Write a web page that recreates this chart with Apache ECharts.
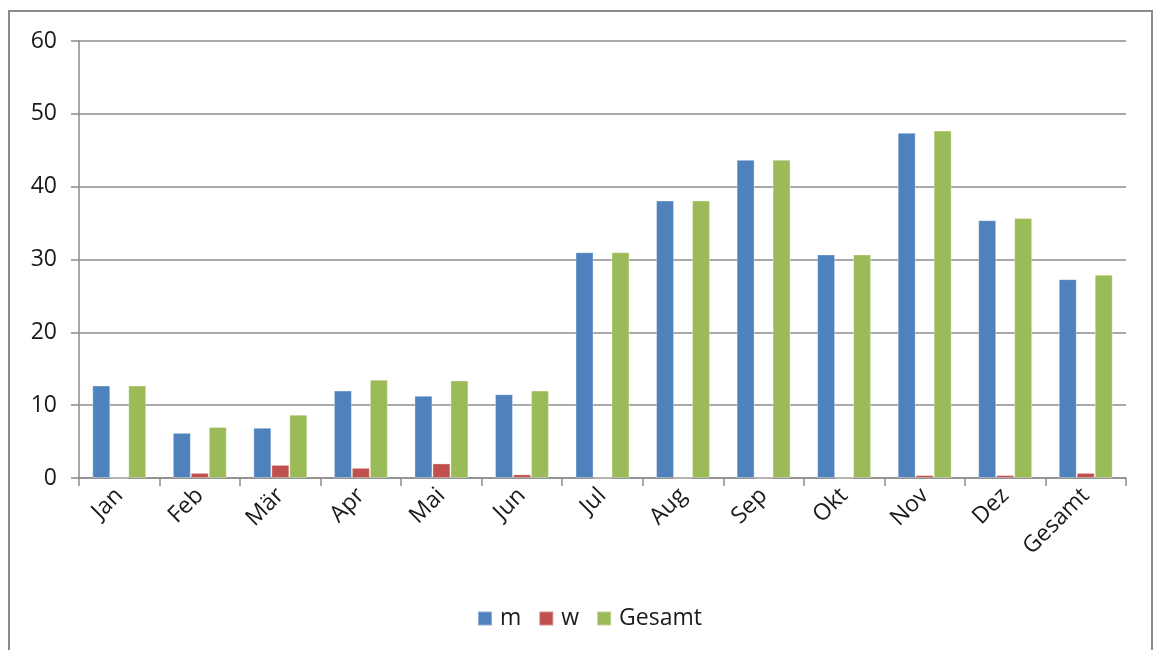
<!DOCTYPE html>
<html>
<head>
<meta charset="utf-8">
<script src="https://cdn.jsdelivr.net/npm/echarts@6/dist/echarts.min.js"></script>
<style>
  html, body { margin: 0; padding: 0; background: #fff; }
  #chart { width: 1154px; height: 650px; }
</style>
</head>
<body>
<div id="chart"></div>
<script>
// Monatliche Werte nach Geschlecht
const categories = ['Jan', 'Feb', 'Mär', 'Apr', 'Mai', 'Jun', 'Jul', 'Aug', 'Sep', 'Okt', 'Nov', 'Dez', 'Gesamt'];
const valuesM = [12.7, 6.2, 6.9, 12.0, 11.3, 11.5, 31.0, 38.1, 43.7, 30.7, 47.4, 35.4, 27.3];
const valuesW = [0, 0.7, 1.8, 1.4, 2.0, 0.5, 0, 0, 0, 0, 0.4, 0.4, 0.7];
const valuesGesamt = [12.7, 7.0, 8.7, 13.5, 13.4, 12.0, 31.0, 38.1, 43.7, 30.7, 47.7, 35.7, 27.9];
const yTicks = { min: 0, max: 60, interval: 10 };

const font = '"Open Sans", "Noto Sans", sans-serif';
const textColor = '#1a1a1a';
const lineColor = '#8c8c8c';

const chart = echarts.init(document.getElementById('chart'), null, { renderer: 'canvas' });

function barSeries(name, data, color) {
  return {
    name: name,
    type: 'bar',
    data: data,
    barGap: '0%',
    barCategoryGap: '33%',
    itemStyle: { color: color, borderColor: 'rgba(255,255,255,0.35)', borderWidth: 1 },
    emphasis: { disabled: true }
  };
}

chart.setOption({
  animation: false,
  backgroundColor: '#fff',
  graphic: [{
    type: 'rect',
    shape: { x: 9, y: 11, width: 1143, height: 660 },
    style: { fill: 'none', stroke: '#8a8a8a', lineWidth: 2 },
    silent: true,
    z: -1
  }],
  grid: { left: 79, right: 28, top: 41, bottom: 172, containLabel: false },
  legend: {
    bottom: 15,
    left: 472,
    itemWidth: 14,
    itemHeight: 14,
    itemGap: 17,
    icon: 'rect',
    textStyle: { fontFamily: font, fontSize: 23, color: textColor, padding: [0, 0, 0, 3] },
    data: ['m', 'w', 'Gesamt']
  },
  xAxis: {
    type: 'category',
    data: categories,
    boundaryGap: true,
    axisLine: { lineStyle: { color: lineColor, width: 1.5 } },
    axisTick: { show: true, length: 8, alignWithLabel: false, lineStyle: { color: lineColor, width: 1.5 } },
    axisLabel: {
      rotate: 45,
      margin: 14,
      interval: 0,
      fontFamily: font,
      fontSize: 23,
      color: textColor
    }
  },
  yAxis: {
    type: 'value',
    min: yTicks.min,
    max: yTicks.max,
    interval: yTicks.interval,
    axisLine: { show: true, lineStyle: { color: lineColor, width: 1.5 } },
    axisTick: { show: true, length: 8, lineStyle: { color: lineColor, width: 1.5 } },
    splitLine: { show: true, lineStyle: { color: lineColor, width: 1.5 } },
    axisLabel: { margin: 22, fontFamily: font, fontSize: 23, color: textColor }
  },
  series: [
    barSeries('m', valuesM, '#4F81BD'),
    barSeries('w', valuesW, '#C0504D'),
    barSeries('Gesamt', valuesGesamt, '#9BBB59')
  ]
});
</script>
</body>
</html>
